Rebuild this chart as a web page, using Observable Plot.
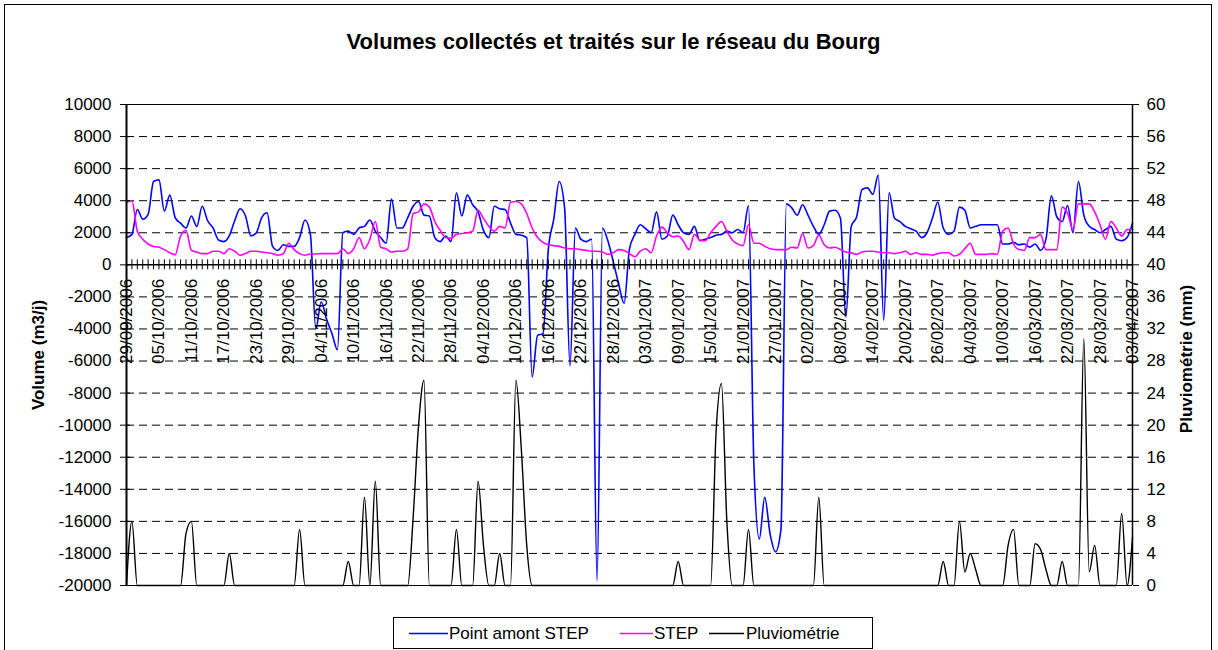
<!DOCTYPE html>
<html><head><meta charset="utf-8">
<script src="https://cdn.jsdelivr.net/npm/d3@7"></script>
<script src="https://cdn.jsdelivr.net/npm/@observablehq/plot@0.6"></script>
<style>
body{margin:0;background:#fff;font-family:"Liberation Sans",Arial,sans-serif;}
#wrap{position:relative;width:1218px;height:650px;overflow:hidden;background:#fff;}
#frame{position:absolute;left:4px;top:4px;width:1208px;height:700px;border:1px solid #000;box-sizing:border-box;}
#title{position:absolute;left:0;top:30px;width:1227px;text-align:center;font-weight:bold;font-size:22px;line-height:24px;color:#000;}
#chart{position:absolute;left:0;top:70px;}
#legend{position:absolute;left:393px;top:617px;width:480px;height:32px;border:1px solid #000;box-sizing:border-box;background:#fff;font-size:17px;}
#legend svg.sw{position:absolute;top:14px;height:3px;overflow:visible;}
#legend .lb{position:absolute;top:0;line-height:31px;white-space:nowrap;color:#000;}
</style></head>
<body>
<div id="wrap">
  <div id="frame"></div>
  <div id="title">Volumes collectés et traités sur le réseau du Bourg</div>
  <div id="chart"></div>
  <div id="legend"></div>
</div>
<script>
// ---- Data ----
const startDay = "29/09/2006";
const endDay = "03/04/2007";

const tickLabels = ["29/09/2006","05/10/2006","11/10/2006","17/10/2006","23/10/2006","29/10/2006",
"04/11/2006","10/11/2006","16/11/2006","22/11/2006","28/11/2006","04/12/2006","10/12/2006",
"16/12/2006","22/12/2006","28/12/2006","03/01/2007","09/01/2007","15/01/2007","21/01/2007",
"27/01/2007","02/02/2007","08/02/2007","14/02/2007","20/02/2007","26/02/2007","04/03/2007",
"10/03/2007","16/03/2007","22/03/2007","28/03/2007","03/04/2007"];

const leftTicks = [-20000,-18000,-16000,-14000,-12000,-10000,-8000,-6000,-4000,-2000,0,2000,4000,6000,8000,10000];
const rightTicks = [0,4,8,12,16,20,24,28,32,36,40,44,48,52,56,60];

// Point amont STEP (m3/j), daily
const amont = [
1700,1900,3450,2850,3150,5200,5300,3350,4350,2950,
2600,2300,3050,2400,3650,2750,2300,1550,1450,1800,
2750,3500,3050,1800,2000,2950,3250,1150,900,1250,
1150,1150,1700,2800,1900,-4000,-2300,-3400,-4300,-5300,
2000,2100,1900,2300,2400,2800,2100,1700,1350,4100,
2300,2300,2950,3650,3950,3100,3050,1700,1450,1800,
1450,4500,3050,4350,3750,3300,2150,1700,3650,3500,
3450,2600,1900,1850,1700,-7000,-4400,-4300,1000,2850,
5200,3550,-6300,2300,1600,1450,1600,-19700,2300,1500,
200,-1200,-2400,1000,1900,2500,2250,2000,3300,1600,
1800,3100,2500,2000,1900,2400,1500,1600,1700,1850,
1900,2100,2000,2200,2000,3700,-12500,-17100,-14500,-16800,
-17900,-16500,3800,3550,3100,3750,3100,2400,1900,2500,
3350,3400,2900,-3250,2400,3000,4700,4800,4400,5600,
-3450,4500,2900,2700,2400,2250,2100,1700,2000,2900,
3900,2300,1900,2100,3600,3400,2300,2400,2500,2500,
2500,2500,1300,1300,1400,1250,1300,1100,1300,900,
1600,4300,3000,2700,3700,2000,5200,3100,2400,2200,
2000,2200,2400,1600,1500,1700,2600];

// STEP (m3/j), daily
const step = [
3900,4000,2100,1600,1300,1150,1100,950,750,630,
1800,2150,900,800,700,700,850,850,700,1000,
850,600,700,850,850,800,750,700,600,700,
1350,950,700,600,680,680,700,700,700,700,
1000,700,1000,1700,1000,1600,2700,1100,1000,800,
850,850,1000,3200,3300,3800,3600,2700,2150,1700,
1650,1900,1950,2000,2100,3400,2900,2400,2100,2400,
2300,3900,3950,3800,3200,2300,1700,1400,1250,1200,
1150,1050,1000,1000,950,900,850,850,800,650,
750,950,900,700,500,850,1000,750,1800,2350,
2000,1750,1800,1450,950,1900,1550,1500,2000,2400,
2700,2100,1550,1300,1200,2500,1350,1350,1150,1000,
950,950,950,1100,1050,1950,1050,1200,1850,1250,
1050,1100,950,800,750,650,800,850,850,800,
750,750,700,750,850,650,750,650,650,600,
700,750,750,550,650,1000,1350,650,650,650,
700,650,2100,2300,1300,950,900,1700,1700,1900,
950,950,950,3600,3200,2200,3800,3800,3800,3300,
2500,1600,2700,2300,1800,2200,2200];

// Pluviométrie (mm), daily
const pluie = [
0,8,0,0,0,0,0,0,0,0,
0,6.5,8,0,0,0,0,0,0,4,
0,0,0,0,0,0,0,0,0,0,
0,0,7,0,0,0,0,0,0,0,
0,3,0,0,11,0,13,0,0,0,
0,0,0,8.5,20,25.6,0,0,0,0,
0,7,0,0,0,13,5,0,0,4,
0,0,25.6,17,5,0,0,0,0,0,
0,0,0,0,0,0,0,0,0,0,
0,0,0,0,0,0,0,0,0,0,
0,0,3,0,0,0,0,0,0,19,
25.2,8,0,0,0,7,0,0,0,0,
0,0,0,0,0,0,0,0,11,0,
0,0,0,0,0,0,0,0,0,0,
0,0,0,0,0,0,0,0,0,0,
0,3,0,0,8,1.7,4,2,0,0,
0,0,0,5,7,0,0,0,5.2,4.5,
2,0,0,3,0,0,0,30.8,1.7,5,
0,0,0,0,9,0,6];

const seriesNames = ["Point amont STEP","STEP","Pluviométrie"];
const seriesColors = ["#0000ff","#ff00ff","#000000"];

// ---- Build ----
const parse = d3.utcParse("%d/%m/%Y");
const days = d3.utcDay.range(parse(startDay), d3.utcDay.offset(parse(endDay), 1));
const yMin = leftTicks[0], yMax = leftTicks[leftTicks.length - 1];
const rainToLeft = d3.scaleLinear([rightTicks[0], rightTicks[rightTicks.length-1]], [yMin, yMax]);
const rows = days.map((d, i) => ({date: d, amont: amont[i], step: step[i], rain: rainToLeft(pluie[i])}));

const W = 1218, H = 545, mT = 34, mB = 30, mL = 126, mR = 86;
const plotW = W - mL - mR;
const unitsPerPx = (yMax - yMin) / (H - mT - mB);
const gridVals = leftTicks.filter(v => v !== 0 && v !== yMin && v !== yMax);
const font = "'Liberation Sans', Arial, sans-serif";

const chart = Plot.plot({
  width: W, height: H,
  marginTop: mT, marginBottom: mB, marginLeft: mL, marginRight: mR,
  style: {fontFamily: font, fontSize: "17px", color: "#000", background: "transparent"},
  x: {type: "utc", domain: [days[0], days[days.length-1]], axis: null},
  y: {domain: [yMin, yMax]},
  marks: [
    Plot.ruleY(gridVals, {stroke: "#000", strokeWidth: 1, strokeDasharray: "8,5"}),
    Plot.ruleY([yMin, yMax], {stroke: "#000", strokeWidth: 1}),
    Plot.line(rows, {x: "date", y: "amont", stroke: seriesColors[0], strokeWidth: 1.6, curve: "monotone-x"}),
    Plot.line(rows, {x: "date", y: "step", stroke: seriesColors[1], strokeWidth: 1.6, curve: "monotone-x"}),
    Plot.line(rows, {x: "date", y: "rain", stroke: seriesColors[2], strokeWidth: 1.4, curve: "monotone-x"}),
    Plot.ruleY([0], {stroke: "#000", strokeWidth: 1.5}),
    Plot.ruleX(days, {x: d => d, y1: -5 * unitsPerPx, y2: 5 * unitsPerPx, stroke: "#000", strokeWidth: 1}),
    Plot.text(tickLabels, {x: s => parse(s), y: 0, text: d => d, rotate: -90, textAnchor: "end", dy: 14, fontSize: 17, fill: "#000"}),
    Plot.ruleX([days[0]], {stroke: "#000", strokeWidth: 2}),
    Plot.ruleX([days[days.length-1]], {stroke: "#000", strokeWidth: 1.5}),
    Plot.axisY({ticks: leftTicks, anchor: "left", tickSize: 6, tickPadding: 9, fontSize: 17, label: null, tickFormat: d => String(d)}),
    Plot.tickY(leftTicks, {y: d => d, insetRight: plotW - 4, stroke: "#000"}),
    Plot.axisY({ticks: rightTicks.map(rainToLeft), anchor: "right", tickSize: 6, tickPadding: 8, fontSize: 17, label: null,
      tickFormat: v => String(Math.round(rainToLeft.invert(v)))}),
    Plot.tickY(leftTicks, {y: d => d, insetLeft: plotW - 4, stroke: "#000"}),
    Plot.text(["Volume (m3/j)"], {frameAnchor: "left", textAnchor: "middle", dx: -88, dy: 10, rotate: -90, fontWeight: "bold", fontSize: 17, fill: "#000"}),
    Plot.text(["Pluviométrie (mm)"], {frameAnchor: "right", textAnchor: "middle", dx: 54, dy: 14, rotate: -90, fontWeight: "bold", fontSize: 17, fill: "#000"})
  ]
});
document.getElementById("chart").appendChild(chart);

// ---- Legend ----
const legend = document.getElementById("legend");
const swatchPos = [[15, 39, 55], [226, 33, 260], [315, 35, 352]];
const svgNS = "http://www.w3.org/2000/svg";
seriesNames.forEach((name, i) => {
  const sw = document.createElementNS(svgNS, "svg");
  sw.setAttribute("class", "sw");
  sw.setAttribute("width", swatchPos[i][1]);
  sw.setAttribute("height", 3);
  sw.style.left = swatchPos[i][0] + "px";
  const ln = document.createElementNS(svgNS, "line");
  ln.setAttribute("x1", 0); ln.setAttribute("x2", swatchPos[i][1]);
  ln.setAttribute("y1", 1.5); ln.setAttribute("y2", 1.5);
  ln.setAttribute("stroke", seriesColors[i]);
  ln.setAttribute("stroke-width", 1.6);
  sw.appendChild(ln);
  legend.appendChild(sw);
  const lb = document.createElement("div");
  lb.className = "lb";
  lb.style.left = swatchPos[i][2] + "px";
  lb.textContent = name;
  legend.appendChild(lb);
});
</script>
</body></html>
